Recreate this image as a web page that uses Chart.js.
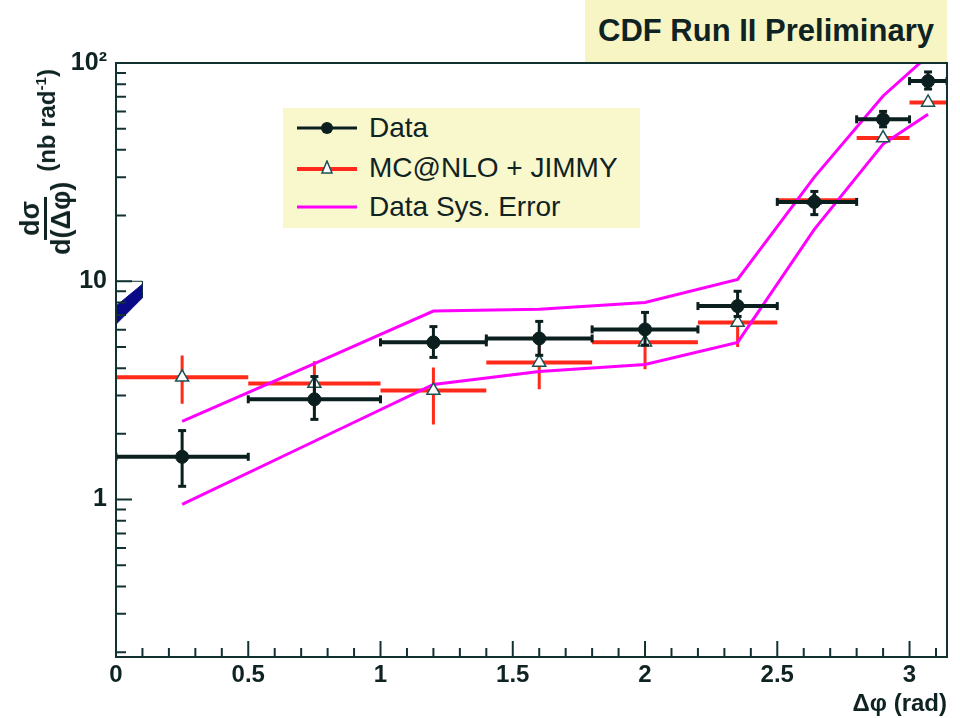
<!DOCTYPE html>
<html>
<head>
<meta charset="utf-8">
<script src="https://cdn.jsdelivr.net/npm/chart.js"></script>
<style>
  body { margin: 0; background: #fff; }
  #wrap { position: relative; width: 960px; height: 718px; font-family: "Liberation Sans", Arial, Helvetica, sans-serif; color: #102323; }
  #chart { position: absolute; left: 0; top: 0; }
  .cdf { position: absolute; left: 585px; top: 0; width: 362px; height: 62px; background: #f7f5c4; font-weight: bold; font-size: 31px; line-height: 62px; text-align: center; }
  .legend { position: absolute; left: 283px; top: 108px; width: 357px; height: 120px; background: #f9f7cc; }
  .legend .row { position: absolute; left: 14px; height: 30px; display: flex; align-items: center; font-size: 28px; }
  .legend svg { margin-right: 12px; }
  .ytitle { position: absolute; left: 46px; top: 162px; transform: translate(-50%, -50%) rotate(-90deg); white-space: nowrap; font-weight: bold; font-size: 24px; display: flex; align-items: center; }
  .frac { display: inline-flex; flex-direction: column; align-items: center; margin-right: 10px; font-size: 27px; }
  .frac .num { border-bottom: 3px solid #102323; padding: 0 4px 1px; line-height: 26px; }
  .frac .den { line-height: 28px; }
  .ytitle sup { font-size: 15px; }
  .xtitle { position: absolute; right: 13px; top: 689px; font-weight: bold; font-size: 24px; }
</style>
</head>
<body>
<div id="wrap">
  <canvas id="chart" width="960" height="718"></canvas>
  <div class="cdf">CDF Run II Preliminary</div>
  <div class="legend">
    <div class="row" style="top:5px">
      <svg width="60" height="16"><line x1="0" y1="8" x2="60" y2="8" stroke="#0b1f1f" stroke-width="3"/><circle cx="30" cy="8" r="6" fill="#0b1f1f"/></svg>Data
    </div>
    <div class="row" style="top:45px">
      <svg width="60" height="16"><line x1="0" y1="9" x2="60" y2="9" stroke="#ff2a1a" stroke-width="4"/><polygon points="30,1 25,13 35,13" fill="#fff" stroke="#1d5050" stroke-width="1.5"/></svg>MC@NLO + JIMMY
    </div>
    <div class="row" style="top:84px">
      <svg width="60" height="16"><line x1="0" y1="8" x2="60" y2="8" stroke="#ff00ff" stroke-width="3"/></svg>Data Sys. Error
    </div>
  </div>
  <div class="ytitle">
    <span class="frac"><span class="num">dσ</span><span class="den">d(Δφ)</span></span>
    <span>(nb rad<sup>-1</sup>)</span>
  </div>
  <div class="xtitle">Δφ (rad)</div>
</div>
<script>
// bins in delta phi
const binLo = [0, 0.5, 1.0, 1.4, 1.8, 2.2, 2.5, 2.8, 3.0];
const binHi = [0.5, 1.0, 1.4, 1.8, 2.2, 2.5, 2.8, 3.0, 3.1416];
const binCenter = [0.25, 0.75, 1.2, 1.6, 2.0, 2.35, 2.64, 2.9, 3.07];

// data
const dataVal = [1.57, 2.88, 5.25, 5.47, 6.02, 7.7, 23.1, 55.2, 82.6];
const dataErrHi = [2.07, 3.66, 6.2, 6.55, 7.2, 9.0, 25.8, 60, 91];
const dataErrLo = [1.15, 2.33, 4.48, 4.58, 5.1, 6.9, 20.2, 51, 76];

// MC@NLO + JIMMY
const mcVal = [3.63, 3.40, 3.16, 4.25, 5.25, 6.48, 23.5, 45.3, 66];
const mcErrHi = [4.57, 4.3, 4.03, 5.3, 6.3, 7.5, 25.5, 47, 68];
const mcErrLo = [2.75, 2.6, 2.21, 3.2, 3.95, 5.0, 21.5, 43.5, 64];

// systematic band edges
const sysUpper = [2.28, 4.2, 7.3, 7.44, 8.0, 10.2, 30, 70.6, 108];
const sysLower = [0.95, 1.85, 3.37, 3.86, 4.16, 5.25, 17.3, 42.5, 58.3];

// the blue stub at the left edge
const stubX = [0, 0.1];
const stubUpper = [7.7, 9.7];
const stubLower = [6.35, 8.4];

// axis ticks
const xTickVals = [0, 0.5, 1, 1.5, 2, 2.5, 3];
const xTickLabels = ['0', '0.5', '1', '1.5', '2', '2.5', '3'];
const yTickVals = [1, 10, 100];
const yTickLabels = ['1', '10', '10²'];

const ink = '#0b1f1f';
const axisColor = '#123232';
const red = '#ff2a1a';
const magenta = '#ff00ff';
const navy = '#0a0a88';

function hBars(lo, hi, v) {
  const out = [];
  v.forEach((y, i) => { out.push({x: lo[i], y: y}, {x: hi[i], y: y}, {x: hi[i], y: null}); });
  return out;
}
function vBars(xc, lo, hi) {
  const out = [];
  xc.forEach((x, i) => { out.push({x: x, y: lo[i]}, {x: x, y: hi[i]}, {x: x, y: null}); });
  return out;
}
const pts = (xs, ys) => xs.map((x, i) => ({x: x, y: ys[i]}));

// frame + ROOT style ticks drawn inside the frame
const frameTicks = {
  id: 'frameTicks',
  afterDraw(chart) {
    const {ctx, chartArea: a, scales: {x, y}} = chart;
    ctx.save();
    ctx.strokeStyle = axisColor;
    ctx.lineWidth = 2;
    ctx.strokeRect(a.left, a.top, a.right - a.left, a.bottom - a.top);
    ctx.beginPath();
    for (let i = 0; i <= 31; i++) {
      const px = x.getPixelForValue(i / 10);
      const len = i % 5 === 0 ? 16 : 9;
      ctx.moveTo(px, a.bottom);
      ctx.lineTo(px, a.bottom - len);
    }
    [0.1, 1, 10].forEach(d => {
      for (let k = 1; k <= 9; k++) {
        const v = k * d;
        if (v < y.min || v > y.max) continue;
        const py = y.getPixelForValue(v);
        const len = k === 1 ? 16 : 10;
        ctx.moveTo(a.left, py);
        ctx.lineTo(a.left + len, py);
      }
    });
    ctx.stroke();
    ctx.restore();
  }
};

const ctx = document.getElementById('chart').getContext('2d');
const chart = new Chart(ctx, {
  type: 'line',
  data: {
    datasets: [
      {
        data: pts(binCenter, dataVal),
        showLine: false,
        pointStyle: 'circle',
        pointRadius: 6.5,
        pointBackgroundColor: ink,
        pointBorderColor: ink
      },
      {
        data: hBars(binLo, binHi, dataVal),
        borderColor: ink,
        borderWidth: 4,
        pointStyle: 'line',
        pointRotation: 90,
        pointRadius: 4,
        pointBorderWidth: 3,
        pointBorderColor: ink
      },
      {
        data: vBars(binCenter, dataErrLo, dataErrHi),
        borderColor: ink,
        borderWidth: 3,
        pointStyle: 'line',
        pointRadius: 4,
        pointBorderWidth: 3,
        pointBorderColor: ink
      },
      {
        data: pts(binCenter, mcVal),
        showLine: false,
        pointStyle: 'triangle',
        pointRadius: 7.5,
        pointBackgroundColor: '#ffffff',
        pointBorderColor: '#1d5050',
        pointBorderWidth: 1.5
      },
      {
        data: pts(binCenter, sysUpper),
        borderColor: magenta,
        borderWidth: 3,
        pointRadius: 0
      },
      {
        data: pts(binCenter, sysLower),
        borderColor: magenta,
        borderWidth: 3,
        pointRadius: 0
      },
      {
        data: hBars(binLo, binHi, mcVal),
        borderColor: red,
        borderWidth: 4,
        pointRadius: 0
      },
      {
        data: vBars(binCenter, mcErrLo, mcErrHi),
        borderColor: red,
        borderWidth: 3,
        pointRadius: 0
      },
      {
        data: pts(stubX, stubUpper),
        borderColor: navy,
        borderWidth: 1,
        pointRadius: 0
      },
      {
        data: pts(stubX, stubLower),
        borderColor: navy,
        borderWidth: 1,
        pointRadius: 0,
        fill: '-1',
        backgroundColor: navy
      },
      {
        data: [{x: 0, y: 10}, {x: 0.1, y: 10}, {x: 0.1, y: 8.4}],
        borderColor: '#123232',
        borderWidth: 1,
        pointRadius: 0
      }
    ]
  },
  options: {
    responsive: false,
    animation: false,
    events: [],
    layout: { padding: { top: 63, right: 13, left: 0, bottom: 0 } },
    plugins: { legend: { display: false }, tooltip: { enabled: false } },
    scales: {
      x: {
        type: 'linear',
        min: 0,
        max: 3.1416,
        afterBuildTicks: s => { s.ticks = xTickVals.map(v => ({value: v})); },
        afterFit: s => { s.height = 61; },
        grid: { display: false, drawTicks: false },
        border: { display: false },
        ticks: {
          padding: 4,
          color: '#102323',
          font: { family: '"Liberation Sans", Arial, sans-serif', size: 24, weight: 'bold' },
          maxRotation: 0,
          autoSkip: false,
          callback: (v, i) => xTickLabels[i]
        }
      },
      y: {
        type: 'logarithmic',
        min: 0.19,
        max: 100,
        afterBuildTicks: s => { s.ticks = yTickVals.map(v => ({value: v})); },
        afterFit: s => { s.width = 116; },
        grid: { display: false, drawTicks: false },
        border: { display: false },
        ticks: {
          padding: 9,
          color: '#102323',
          font: { family: '"Liberation Sans", Arial, sans-serif', size: 25, weight: 'bold' },
          autoSkip: false,
          callback: (v, i) => yTickLabels[i]
        }
      }
    }
  },
  plugins: [frameTicks]
});
</script>
</body>
</html>
